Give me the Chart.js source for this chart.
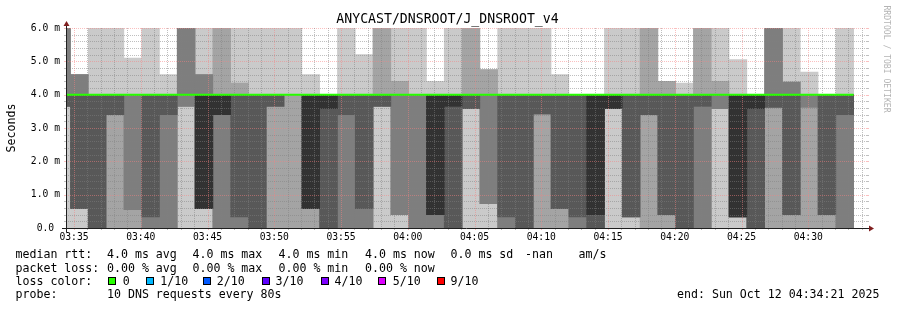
<!DOCTYPE html>
<html>
<head>
<meta charset="utf-8">
<title>ANYCAST/DNSROOT/J_DNSROOT_v4</title>
<script src="https://cdn.jsdelivr.net/npm/chart.js@4.4.1/dist/chart.umd.min.js"></script>
<style>
html, body { margin: 0; padding: 0; background: #ffffff; }
canvas { display: block; }
</style>
</head>
<body>
<canvas id="chart" width="897" height="310"></canvas>
<script>
// ---------------- data ----------------
const chartTitle = 'ANYCAST/DNSROOT/J_DNSROOT_v4';
const yAxisTitle = 'Seconds';
const watermark = 'RRDTOOL / TOBI OETIKER';

// 80 s probe rounds; time in seconds relative to 03:35:00
const stepSeconds = 80;
const firstColumnEnd = -16;
const axisStart = -36;      // 03:34:24
const axisEnd = 3564;       // 04:34:24

// sorted DNS round-trip times of the 10 requests per round (ms), lowest (p1) to highest (p10)
const p1  = [0,0,0,0,0,0,0,0,0,0, 0,0,0,0,0,0,0,0,0,0, 0,0,0,0,0,0,0,0,0,0, 0,0,0,0,0,0,0,0,0,0, 0,0,0,0,0];
const p2  = [3.65,0.58,0,0,0,0,0,3.65,0.58,0, 0,0,0,0,0,0,0,0,3.65,0.4, 0,0,0,3.58,0.73,0,0,0,0,0, 0,3.58,0.33,0,0,0,0,3.58,0.33,0, 0,0,0,0,0];
const p3  = [3.65,0.58,0,3.4,0.55,0,0,3.65,0.58,0, 0,0,3.65,4,0.58,0,0,0,3.65,0.4, 0,0,0,3.58,0.73,0,0,3.42,0.58,0, 0,3.58,0.33,3.4,0.4,0,0,3.58,0.33,0, 3.62,0.4,3.62,0.4,0];
const p4  = [3.65,0.58,0,3.4,4,0.33,3.4,4,0.58,3.4, 0.33,0,3.65,4,0.58,0,3.4,0.58,3.65,4, 4,0.4,0,3.58,4,0.33,0,3.42,0.58,0.33, 0,3.58,0.33,3.4,0.4,0,3.65,4,0.33,0, 3.62,0.4,4,0.4,3.4];
const p5  = [4,4,4,4,4,4,4,4,0.58,3.4, 4,4,4,4,0.58,3.58,4,4,4,4, 4,0.4,3.65,4,4,4,4,4,4,4, 0.4,3.58,4,4,4,4,4,4,0.33,3.58, 4,4,4,4,4];
const p6  = [4,4,4,4,4,4,4,4,4,4, 4,4,4,4,4,4,4,4,4,4, 4,4,4,4,4,4,4,4,4,4, 4,4,4,4,4,4,4,4,4,4, 4,4,4,4,4];
const p7  = [4,4,4,4,4,4,4,4,4,4, 4,4,4,4,4,4,4,4,4,4, 4,4,4,4,4,4,4,4,4,4, 4,4,4,4,4,4,4,4,4,4, 4,4,4,4,4];
const p8  = [6,4.6,4,4,4,4,4,6,4.6,4, 4,4,4,4,4,4,4,4,4,4, 4,4,4,4,4,4,4,4,4,4, 4,4,4,4,4,4,4,4,4,4, 6,4.38,4,4,4];
const p9  = [6,4.6,4,4,4,4,4,6,4.6,6, 4.35,4,4,4,4,4,4,4,6,4.4, 4,4,4,6,4.75,4,4,4,4,4, 4,4,4,6,4.4,4,6,4.4,4,4, 6,4.38,4,4,4];
const p10 = [6,4.6,6,6,5.1,6,4.6,6,6,6, 6,6,6,6,4.6,4,6,5.2,6,6, 6,4.4,6,6,4.75,6,6,6,4.6,4, 4,6,6,6,4.4,4.35,6,6,5.05,4, 6,6,4.68,4,6];
// median rtt per round (ms)
const median = [4,4,4,4,4,4,4,4,4,4, 4,4,4,4,4,4,4,4,4,4, 4,4,4,4,4,4,4,4,4,4, 4,4,4,4,4,4,4,4,4,4, 4,4,4,4,4];

const xTickValues = [0,300,600,900,1200,1500,1800,2100,2400,2700,3000,3300];
const xTickLabels = ['03:35','03:40','03:45','03:50','03:55','04:00','04:05','04:10','04:15','04:20','04:25','04:30'];
const yTickValues = [0,1,2,3,4,5,6];
const yTickLabels = ['0.0 ','1.0 m','2.0 m','3.0 m','4.0 m','5.0 m','6.0 m'];

const smokeColors = ['#cacaca','#a4a4a4','#7e7e7e','#585858','#323232'];
const lossLabels = ['0','1/10','2/10','3/10','4/10','5/10','9/10'];
const lossColors = ['#26ff00','#00b8ff','#0059ff','#5e00ff','#7e00ff','#dd00ff','#ff0000'];
const rttStats = ['4.0 ms avg','4.0 ms max','4.0 ms min','4.0 ms now','0.0 ms sd','-nan','am/s'];
const lossStats = ['0.00 % avg','0.00 % max','0.00 % min','0.00 % now'];
const probeText = '10 DNS requests every 80s';
const endText = 'end: Sun Oct 12 04:34:21 2025';

// ---------------- chart ----------------
const pings = [p1,p2,p3,p4,p5,p6,p7,p8,p9,p10];
const centers = p1.map((_, k) => firstColumnEnd + stepSeconds * k - stepSeconds / 2);
const edges = p1.map((_, k) => firstColumnEnd + stepSeconds * (k - 1)).concat([firstColumnEnd + stepSeconds * (p1.length - 1)]);

const smokeSets = smokeColors.map((color, i) => ({
  type: 'bar',
  data: centers.map((x, k) => {
    const lo = pings[i][k], hi = pings[9 - i][k];
    return { x: x, y: lo === hi ? null : [lo, hi] };
  }),
  backgroundColor: color,
  borderWidth: 0,
  grouped: false,
  barPercentage: 1,
  categoryPercentage: 1,
  clip: 0,
  order: 10 - i
}));

const medianSet = {
  type: 'line',
  data: edges.map((x, k) => ({ x: x, y: median[Math.min(k, median.length - 1)] })),
  borderColor: lossColors[0],
  borderWidth: 2,
  pointRadius: 0,
  stepped: 'after',
  clip: 0,
  order: 0
};

const MONO = '"DejaVu Sans Mono", "Liberation Mono", monospace';
const tickFont = { family: MONO, size: 9.7 };

function drawGrid(chart) {
  const { ctx, chartArea: a, scales: { x, y } } = chart;
  const minorCol = 'rgba(128,128,128,0.5)';
  const majorCol = 'rgba(245,128,128,0.5)';
  ctx.save();
  ctx.lineWidth = 1;
  // horizontal lines every 0.2 ms, major every 1 ms
  for (let i = 1; i <= 30; i++) {
    const v = i * 0.2;
    const major = i % 5 === 0;
    const py = Math.round(y.getPixelForValue(v)) + 0.5;
    ctx.strokeStyle = major ? majorCol : minorCol;
    ctx.setLineDash([]);
    ctx.beginPath();
    ctx.moveTo(a.left - 2, py); ctx.lineTo(a.left, py);
    ctx.moveTo(a.right, py); ctx.lineTo(a.right + 2, py);
    ctx.stroke();
    ctx.setLineDash([1, 1]);
    ctx.beginPath();
    ctx.moveTo(a.left, py); ctx.lineTo(a.right, py);
    ctx.stroke();
  }
  // vertical lines every minute, major every 5 minutes
  for (let t = Math.ceil(x.min / 60) * 60; t <= x.max; t += 60) {
    const major = ((t % 300) + 300) % 300 === 0;
    const px = Math.round(x.getPixelForValue(t)) + 0.5;
    ctx.strokeStyle = major ? majorCol : minorCol;
    ctx.setLineDash([]);
    ctx.beginPath();
    ctx.moveTo(px, a.bottom); ctx.lineTo(px, a.bottom + 2);
    ctx.stroke();
    ctx.setLineDash([1, 1]);
    ctx.beginPath();
    ctx.moveTo(px, a.top); ctx.lineTo(px, a.bottom);
    ctx.stroke();
  }
  ctx.restore();
}

function drawAxes(chart) {
  const { ctx, chartArea: a } = chart;
  ctx.save();
  ctx.strokeStyle = '#1f1f1f';
  ctx.lineWidth = 1;
  ctx.beginPath();
  ctx.moveTo(a.left - 4, a.bottom + 0.5); ctx.lineTo(a.right + 4, a.bottom + 0.5);
  ctx.moveTo(a.left + 0.5, a.bottom + 4); ctx.lineTo(a.left + 0.5, a.top - 4);
  ctx.stroke();
  ctx.fillStyle = '#801f1f';
  ctx.beginPath();
  ctx.moveTo(a.right + 2, a.bottom - 2.5); ctx.lineTo(a.right + 2, a.bottom + 3.5); ctx.lineTo(a.right + 7, a.bottom + 0.5);
  ctx.closePath(); ctx.fill();
  ctx.beginPath();
  ctx.moveTo(a.left - 2.5, a.top - 2); ctx.lineTo(a.left + 3.5, a.top - 2); ctx.lineTo(a.left + 0.5, a.top - 7);
  ctx.closePath(); ctx.fill();
  ctx.restore();
}

function drawTexts(chart) {
  const ctx = chart.ctx;
  ctx.save();
  ctx.fillStyle = '#000000';
  ctx.textBaseline = 'alphabetic';
  ctx.textAlign = 'center';
  ctx.font = '13.2px ' + MONO;
  ctx.fillText(chartTitle, 447.5, 23);

  ctx.font = '11.6px ' + MONO;
  ctx.save();
  ctx.translate(14.5, 128);
  ctx.rotate(-Math.PI / 2);
  ctx.fillText(yAxisTitle, 0, 0);
  ctx.restore();

  ctx.save();
  ctx.fillStyle = '#b4b4b4';
  ctx.font = '8.1px ' + MONO;
  ctx.translate(884, 59);
  ctx.rotate(Math.PI / 2);
  ctx.fillText(watermark, 0, 0);
  ctx.restore();

  ctx.textAlign = 'left';
  ctx.font = '11.6px ' + MONO;
  const statX = [107, 192.5, 278.5, 365, 450.5, 525, 578.5];
  const rows = [258.3, 271.7, 285, 298.3];
  ctx.fillText('median rtt:', 15.5, rows[0]);
  rttStats.forEach((s, i) => ctx.fillText(s, statX[i], rows[0]));
  ctx.fillText('packet loss:', 15.5, rows[1]);
  lossStats.forEach((s, i) => ctx.fillText(s, statX[i], rows[1]));
  ctx.fillText('loss color:', 15.5, rows[2]);
  const boxX = [108, 146, 203, 262, 321, 378, 437];
  const labX = [122.8, 160.2, 216.8, 275.5, 334.5, 392.8, 450.5];
  lossLabels.forEach((lab, i) => {
    ctx.fillStyle = lossColors[i];
    ctx.fillRect(boxX[i], 277, 8, 8);
    ctx.strokeStyle = '#000000';
    ctx.lineWidth = 1;
    ctx.strokeRect(boxX[i] + 0.5, 277.5, 7, 7);
    ctx.fillStyle = '#000000';
    ctx.fillText(lab, labX[i], rows[2]);
  });
  ctx.fillText('probe:', 15.5, rows[3]);
  ctx.fillText(probeText, statX[0], rows[3]);
  ctx.fillText(endText, 677, rows[3]);
  ctx.restore();
}

const rrdPlugin = {
  id: 'rrdStyle',
  beforeDatasetDraw(chart, args) {
    if (args.meta.type === 'line') drawGrid(chart);
  },
  afterDraw(chart) {
    drawAxes(chart);
    drawTexts(chart);
  }
};

new Chart(document.getElementById('chart'), {
  type: 'bar',
  data: { datasets: smokeSets.concat([medianSet]) },
  options: {
    responsive: false,
    animation: false,
    devicePixelRatio: 1,
    layout: { padding: { left: 0, right: 30, top: 28, bottom: 0 } },
    plugins: { legend: { display: false }, tooltip: { enabled: false }, title: { display: false } },
    scales: {
      x: {
        type: 'linear',
        min: axisStart,
        max: axisEnd,
        offset: false,
        afterBuildTicks: s => { s.ticks = xTickValues.map(v => ({ value: v })); },
        afterFit: s => { s.height = 82; },
        grid: { display: false, drawTicks: false },
        border: { display: false },
        ticks: { autoSkip: false, maxRotation: 0, minRotation: 0, padding: 4, color: '#000000', font: tickFont,
                 callback: (v, i) => xTickLabels[i] }
      },
      y: {
        type: 'linear',
        min: 0,
        max: 6,
        afterBuildTicks: s => { s.ticks = yTickValues.map(v => ({ value: v })); },
        afterFit: s => { s.width = 66; },
        grid: { display: false, drawTicks: false },
        border: { display: false },
        ticks: { autoSkip: false, padding: 6, color: '#000000', font: tickFont,
                 callback: (v, i) => yTickLabels[i] }
      }
    }
  },
  plugins: [rrdPlugin]
});
</script>
</body>
</html>
